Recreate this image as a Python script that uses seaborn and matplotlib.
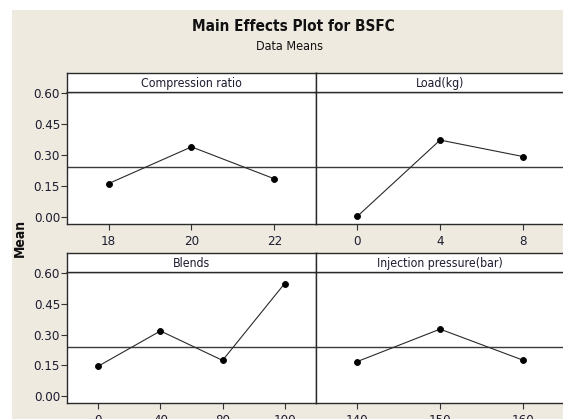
import matplotlib
matplotlib.use("Agg")
import matplotlib.pyplot as plt
from matplotlib.patches import Rectangle
import pandas as pd
import seaborn as sns

# Factor levels and the mean BSFC at each level
compression_levels = ["18", "20", "22"]
compression_means = [0.162, 0.340, 0.185]

load_levels = ["0", "4", "8"]
load_means = [0.002, 0.373, 0.293]

blend_levels = ["0", "40", "80", "100"]
blend_means = [0.146, 0.318, 0.174, 0.550]

pressure_levels = ["140", "150", "160"]
pressure_means = [0.168, 0.327, 0.175]

grand_mean = 0.240
y_ticks = [0.00, 0.15, 0.30, 0.45, 0.60]

factors = [
    ("Compression ratio", compression_levels, compression_means),
    ("Load(kg)", load_levels, load_means),
    ("Blends", blend_levels, blend_means),
    ("Injection pressure(bar)", pressure_levels, pressure_means),
]

rows = []
for name, levels, means in factors:
    for lvl, m in zip(levels, means):
        rows.append({"factor": name, "level": lvl, "mean": m})
df = pd.DataFrame(rows)

sns.set_style("white")
plt.rcParams["font.family"] = ["DejaVu Sans"]
plt.rcParams["font.stretch"] = "condensed"

W, H = 563, 419
fig = plt.figure(figsize=(W / 100, H / 100), dpi=100)
fig.patch.set_facecolor("white")

bg = "#EEEAE0"
fig.patches.append(Rectangle((11.5 / W, 0), 1, 1 - 10.5 / H, transform=fig.transFigure,
                             facecolor=bg, edgecolor="none", zorder=-10))

text_col = "#1c1c30"
xl, xm, xr = 67.3 / W, 315.7 / W, 564.5 / W
# (plot top px, plot bottom px)
row_px = [(92.3, 224.3), (272.3, 403.3)]
strip_h = 19.0

for i, (name, levels, means) in enumerate(factors):
    r, c = divmod(i, 2)
    top, bot = row_px[r]
    x0 = xl if c == 0 else xm
    w = (xm - xl) if c == 0 else (xr - xm)
    ax = fig.add_axes([x0, 1 - bot / H, w, (bot - top) / H])
    ax.set_facecolor("white")
    sub = df[df["factor"] == name]
    sns.pointplot(data=sub, x="level", y="mean", order=levels, color="black",
                  errorbar=None, markers="o", linestyles="-", markersize=4.3,
                  linewidth=0.8, ax=ax)
    for ln in ax.lines:
        ln.set_color("#2a2a2a")
        ln.set_markerfacecolor("black")
        ln.set_markeredgecolor("black")
    ax.axhline(grand_mean, color="#3a3a3a", lw=1.0, zorder=1)
    ax.set_xlim(-0.5, len(levels) - 0.5)
    ax.set_ylim(-0.036, 0.605)
    ax.set_xlabel("")
    ax.set_ylabel("")
    ax.set_yticks(y_ticks)
    if c == 0:
        ax.set_yticklabels([f"{t:.2f}" for t in y_ticks])
        ax.tick_params(axis="y", length=4, width=0.8, pad=1.2, labelsize=9.5,
                       colors="#333333", labelcolor=text_col, left=True)
    else:
        ax.tick_params(axis="y", left=False, labelleft=False)
    ax.tick_params(axis="x", length=4, width=0.8, pad=3.5, labelsize=9.5,
                   colors="#333333", labelcolor=text_col, bottom=True, direction="out")
    for sp in ax.spines.values():
        sp.set_color("#2a2a2a")
        sp.set_linewidth(1.0)

    sax = fig.add_axes([x0, 1 - top / H, w, strip_h / H])
    sax.set_facecolor("white")
    sax.set_xticks([])
    sax.set_yticks([])
    for sp in sax.spines.values():
        sp.set_color("#2a2a2a")
        sp.set_linewidth(1.0)
    sax.text(0.5, 0.45, name, ha="center", va="center", fontsize=8.8,
             color=text_col, transform=sax.transAxes)

fig.text(293 / W, 1 - 26.5 / H, "Main Effects Plot for BSFC", ha="center", va="center",
         fontsize=11, fontweight="bold", color="#111111")
fig.text(290 / W, 1 - 46.5 / H, "Data Means", ha="center", va="center",
         fontsize=9, color="#111111")
fig.text(19.5 / W, 1 - 238 / H, "Mean", ha="center", va="center", rotation=90,
         fontsize=10, fontweight="bold", color="#111111")

fig.savefig("out.png", dpi=100, facecolor=fig.get_facecolor())
